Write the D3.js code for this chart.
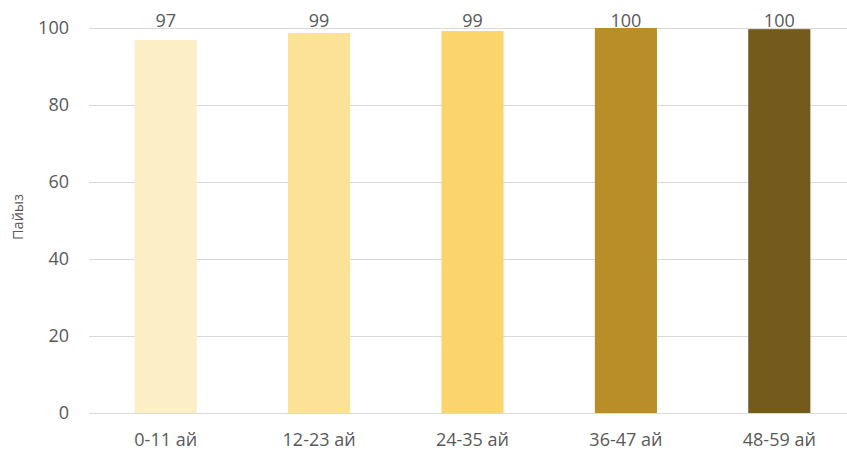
<!DOCTYPE html>
<html>
<head>
<meta charset="utf-8">
<script src="https://cdn.jsdelivr.net/npm/d3@7"></script>
<style>
  html, body { margin: 0; padding: 0; background: #fff; }
  svg { display: block; }
</style>
</head>
<body>
<svg id="chart" width="847" height="450"></svg>
<script>
const categories = ["0-11 ай", "12-23 ай", "24-35 ай", "36-47 ай", "48-59 ай"];
const values = [96.9, 98.7, 99.2, 100.0, 99.7];
const valueLabels = ["97", "99", "99", "100", "100"];
const barColors = ["#FCEFC5", "#FCE297", "#FBD56B", "#B98E28", "#745A1D"];
const yTicks = [0, 20, 40, 60, 80, 100];
const yTitle = "Пайыз";

const svg = d3.select("#chart");
const font = "'Open Sans', 'Noto Sans', sans-serif";
const textColor = "#595959";

const x = d3.scaleBand()
  .domain(categories)
  .range([89, 856])
  .paddingInner(0.595)
  .paddingOuter(0.2975);

const y = d3.scaleLinear().domain([0, 100]).range([413, 28]);

// gridlines
svg.append("g").selectAll("line")
  .data(yTicks)
  .join("line")
  .attr("x1", 89).attr("x2", 856)
  .attr("y1", d => Math.round(y(d)) + 0.5)
  .attr("y2", d => Math.round(y(d)) + 0.5)
  .attr("stroke", "#D9D9D9")
  .attr("stroke-width", 1);

// y tick labels
svg.append("g").selectAll("text")
  .data(yTicks)
  .join("text")
  .attr("x", 69)
  .attr("y", d => y(d))
  .attr("dy", "0.35em")
  .attr("text-anchor", "end")
  .attr("font-family", font)
  .attr("font-size", 18)
  .attr("fill", textColor)
  .text(d => d);

// bars
svg.append("g").selectAll("rect")
  .data(values)
  .join("rect")
  .attr("x", (d, i) => x(categories[i]))
  .attr("width", x.bandwidth())
  .attr("y", d => y(d))
  .attr("height", d => y(0) - y(d))
  .attr("fill", (d, i) => barColors[i]);

// value labels
svg.append("g").selectAll("text")
  .data(values)
  .join("text")
  .attr("x", (d, i) => x(categories[i]) + x.bandwidth() / 2)
  .attr("y", y(100) - 1)
  .attr("text-anchor", "middle")
  .attr("font-family", font)
  .attr("font-size", 18)
  .attr("fill", textColor)
  .text((d, i) => valueLabels[i]);

// x labels
svg.append("g").selectAll("text")
  .data(categories)
  .join("text")
  .attr("x", d => x(d) + x.bandwidth() / 2)
  .attr("y", 446)
  .attr("text-anchor", "middle")
  .attr("font-family", font)
  .attr("font-size", 18)
  .attr("fill", textColor)
  .text(d => d);

// y title
svg.append("text")
  .attr("transform", "translate(23," + 217 + ") rotate(-90)")
  .attr("text-anchor", "middle")
  .attr("font-family", font)
  .attr("font-size", 14.5)
  .attr("fill", textColor)
  .text(yTitle);
</script>
</body>
</html>
